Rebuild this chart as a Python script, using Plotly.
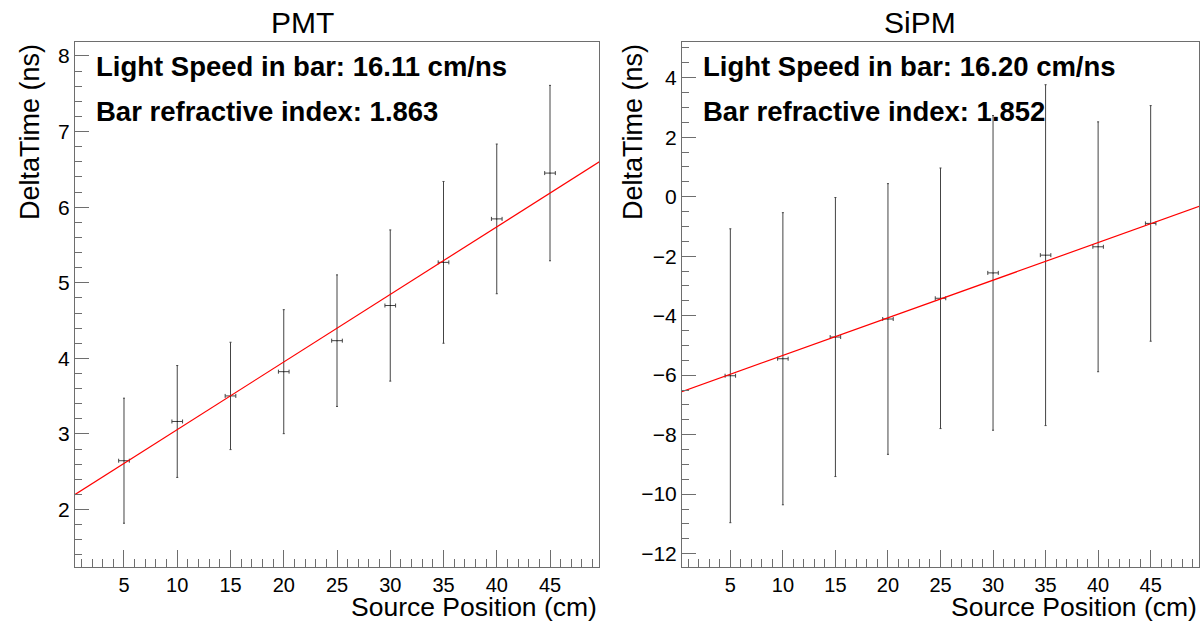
import plotly.graph_objects as go
from plotly.subplots import make_subplots

# ---- data ----
positions = [5, 10, 15, 20, 25, 30, 35, 40, 45]
position_err = [0.5] * 9

pmt_dt = [2.646, 3.165, 3.503, 3.824, 4.234, 4.699, 5.270, 5.845, 6.451]
pmt_err = [0.827, 0.74, 0.71, 0.82, 0.87, 1.00, 1.07, 0.99, 1.16]

sipm_dt = [-6.02, -5.448, -4.719, -4.112, -3.416, -2.562, -1.966, -1.685, -0.899]
sipm_err = [4.94, 4.91, 4.69, 4.55, 4.38, 5.29, 5.73, 4.20, 3.96]

# linear fit parameters (intercept, slope)
pmt_fit = (2.164, 0.0894)
sipm_fit = (-6.603, 0.1265)
fit_x = [0, 50]

titles = ["PMT", "SiPM"]
speed_labels = ["Light Speed in bar: 16.11 cm/ns", "Light Speed in bar: 16.20 cm/ns"]
index_labels = ["Bar refractive index: 1.863", "Bar refractive index: 1.852"]
x_title = "Source Position (cm)"
y_title = "DeltaTime (ns)"

# ---- layout geometry ----
W, H = 1202, 621
FONT = "Liberation Sans, Arial, Helvetica, sans-serif"
AX = "#6e6e6e"

fig = make_subplots(rows=1, cols=2, horizontal_spacing=0.05)

for col, (dt, err, fit) in enumerate([(pmt_dt, pmt_err, pmt_fit), (sipm_dt, sipm_err, sipm_fit)], start=1):
    fig.add_trace(go.Scatter(
        x=positions, y=dt, mode="markers",
        marker=dict(size=1, color="black"),
        error_x=dict(type="data", array=position_err, color="#444", thickness=1, width=2),
        error_y=dict(type="data", array=err, color="#444", thickness=1, width=1),
        showlegend=False, hoverinfo="skip"), row=1, col=col)
    fy = [fit[0] + fit[1] * xx for xx in fit_x]
    fig.add_trace(go.Scatter(
        x=fit_x, y=fy, mode="lines", line=dict(color="red", width=1.2),
        showlegend=False, hoverinfo="skip"), row=1, col=col)

# domains in paper coords
yd = [1 - 567 / H, 1 - 42 / H]
xd1 = [75 / W, 599 / W]
xd2 = [682 / W, 1199 / W]

common_x = dict(range=[0.4, 49.6], tickmode="array", tickvals=positions,
                ticks="inside", ticklen=17, tickwidth=1, tickcolor=AX,
                showline=True, linecolor=AX, linewidth=1, mirror=True,
                showgrid=False, zeroline=False,
                tickfont=dict(family=FONT, size=20, color="black"),
                minor=dict(ticks="inside", ticklen=8, tickcolor=AX, dtick=1, tick0=0, showgrid=False))
fig.update_xaxes(**common_x)
fig.update_layout(xaxis=dict(domain=xd1), xaxis2=dict(domain=xd2))

common_y = dict(ticks="inside", ticklen=14, tickwidth=1, tickcolor=AX,
                showline=True, linecolor=AX, linewidth=1, mirror=True,
                showgrid=False, zeroline=False,
                tickfont=dict(family=FONT, size=21, color="black"))
fig.update_yaxes(**common_y)
fig.update_layout(
    yaxis=dict(domain=yd, range=[1.24, 8.185], dtick=1, tick0=0,
               minor=dict(ticks="inside", ticklen=7, tickcolor=AX, dtick=0.2, tick0=0, showgrid=False)),
    yaxis2=dict(domain=yd, range=[-12.45, 5.20], dtick=2, tick0=0,
                minor=dict(ticks="inside", ticklen=7, tickcolor=AX, dtick=0.5, tick0=0, showgrid=False)),
)

ann = []
title_cx = [302, 920]
frame_l = [75, 682]
frame_r = [599, 1199]
ytitle_cx = [30, 633]
for i in range(2):
    ann.append(dict(text=titles[i], x=title_cx[i] / W, y=1 - 22 / H, xref="paper", yref="paper",
                    xanchor="center", yanchor="middle", showarrow=False,
                    font=dict(family=FONT, size=30, color="black")))
    ann.append(dict(text=speed_labels[i], x=(frame_l[i] + 19) / W, y=1 - 66 / H, xref="paper", yref="paper",
                    xanchor="left", yanchor="middle", showarrow=False,
                    font=dict(family=FONT, size=27.5, color="black", weight="bold")))
    ann.append(dict(text=index_labels[i], x=(frame_l[i] + 19) / W, y=1 - 111 / H, xref="paper", yref="paper",
                    xanchor="left", yanchor="middle", showarrow=False,
                    font=dict(family=FONT, size=27.5, color="black", weight="bold")))
    ann.append(dict(text=x_title, x=frame_r[i] / W, y=1 - 607 / H, xref="paper", yref="paper",
                    xanchor="right", yanchor="middle", showarrow=False,
                    font=dict(family=FONT, size=26.5, color="black")))
    ann.append(dict(text=y_title, x=ytitle_cx[i] / W, y=1 - 42 / H, xref="paper", yref="paper",
                    xanchor="center", yanchor="top", showarrow=False, textangle=-90,
                    font=dict(family=FONT, size=27, color="black")))

fig.update_layout(
    width=W, height=H, margin=dict(l=0, r=0, t=0, b=0),
    paper_bgcolor="white", plot_bgcolor="white",
    annotations=ann,
)

fig.write_html("out.html", config={"displayModeBar": False},
               post_script="document.body.style.margin='0';document.body.style.overflow='hidden';")
